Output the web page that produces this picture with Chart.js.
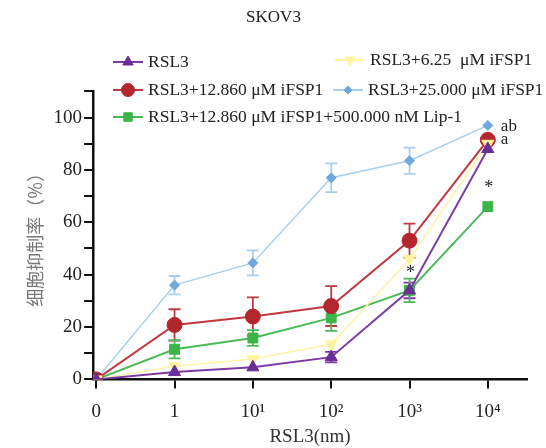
<!DOCTYPE html>
<html>
<head>
<meta charset="utf-8">
<script src="https://cdn.jsdelivr.net/npm/chart.js@4.4.1/dist/chart.umd.min.js"></script>
<style>
  html, body { margin: 0; padding: 0; background: #fff; }
  #wrap { width: 546px; height: 448px; }
</style>
</head>
<body>
<div id="wrap"><canvas id="c" width="546" height="448"></canvas></div>
<script>
// ── Data ──────────────────────────────────────────────────────────────────────
const xLabels = ['0', '1', '10¹', '10²', '10³', '10⁴'];

const rsl3       = [0, 2.8, 4.6, 8.5, 34, 88];
const rsl3Err    = [0, 0, 0, 2, 3, 0];
const ifsp625    = [0, 5, 7.8, 13.4, 46, 90];
const ifsp625Err = [0, 0, 0, 0, 0, 0];
const ifsp12     = [0, 20.8, 24, 28, 53, 91.5];
const ifsp12Err  = [0, 6, 7.3, 7.6, 6.5, 0];
const ifsp25     = [0, 36, 44.5, 77, 83.5, 97];
const ifsp25Err  = [0, 3.5, 4.8, 5.5, 5, 0];
const lip1       = [0, 11.5, 15.8, 23.5, 34, 66];
const lip1Err    = [0, 3.5, 3, 5, 4.5, 0];

const seriesNames = [
  'RSL3',
  'RSL3+6.25  μM iFSP1',
  'RSL3+12.860 μM iFSP1',
  'RSL3+25.000 μM iFSP1',
  'RSL3+12.860 μM iFSP1+500.000 nM Lip-1',
];

// significance marks: [dataset index, point index, text]
const marks = [
  [3, 5, 'ab'],
  [2, 5, 'a'],
  [4, 5, '*'],
  [1, 4, '*'],
];

const SERIF = '"Liberation Serif", "DejaVu Serif", serif';

const toPts = arr => arr.map((v, i) => ({ x: i, y: v }));

function ds(label, values, errs, color, lineColor, style, radius, rotation, width) {
  return {
    label,
    data: toPts(values),
    errs,
    borderColor: lineColor,
    backgroundColor: color,
    pointBackgroundColor: color,
    pointBorderColor: color,
    pointStyle: style,
    pointRadius: radius,
    pointRotation: rotation,
    pointBorderWidth: 1,
    borderWidth: width,
    tension: 0,
  };
}

const datasets = [
  ds(seriesNames[0], rsl3,    rsl3Err,    '#6b2d96', '#7d3aa6', 'triangle', 7, 0, 2),
  ds(seriesNames[1], ifsp625, ifsp625Err, '#fff3a0', '#fff3a8', 'triangle', 7, 180, 1.5),
  ds(seriesNames[2], ifsp12,  ifsp12Err,  '#b3262d', '#c0393e', 'circle', 7.5, 0, 2),
  ds(seriesNames[3], ifsp25,  ifsp25Err,  '#6fa8df', '#a9cff0', 'rectRot', 5, 0, 1.5),
  ds(seriesNames[4], lip1,    lip1Err,    '#3bb54a', '#4cb957', 'rect', 7, 0, 2),
];

// ── Plugins ───────────────────────────────────────────────────────────────────
const errorBars = {
  id: 'errorBars',
  beforeDatasetsDraw(chart) {
    const { ctx, scales: { x, y } } = chart;
    ctx.save();
    chart.data.datasets.forEach(d => {
      ctx.strokeStyle = d.borderColor;
      ctx.lineWidth = 1.8;
      d.data.forEach((p, i) => {
        const e = d.errs[i];
        if (!e) return;
        const px = x.getPixelForValue(p.x);
        const top = y.getPixelForValue(p.y + e);
        const bot = y.getPixelForValue(p.y - e);
        ctx.beginPath();
        ctx.moveTo(px, top); ctx.lineTo(px, bot);
        ctx.moveTo(px - 6, top); ctx.lineTo(px + 6, top);
        ctx.moveTo(px - 6, bot); ctx.lineTo(px + 6, bot);
        ctx.stroke();
      });
    });
    ctx.restore();
  }
};

const extras = {
  id: 'extras',
  afterDraw(chart) {
    const { ctx, scales: { x, y } } = chart;
    ctx.save();

    // significance letters
    ctx.fillStyle = '#222';
    ctx.textBaseline = 'middle';
    marks.forEach(([di, pi, txt]) => {
      const p = chart.data.datasets[di].data[pi];
      const px = x.getPixelForValue(p.x);
      const py = y.getPixelForValue(p.y);
      if (txt === '*') {
        ctx.textAlign = 'center';
        ctx.font = '18px ' + SERIF;
        ctx.fillText('*', px + 1, py + (di === 4 ? -18 : 14));
      } else {
        ctx.textAlign = 'left';
        ctx.font = '17px ' + SERIF;
        ctx.fillText(txt, px + 13, py + (txt === 'a' ? 0 : 1));
      }
    });

    // legend (two columns, drawn over the plot like the source figure)
    const slots = [[113, 62], [335, 60], [113, 90], [333, 90], [113, 117]];
    ctx.font = '17.5px ' + SERIF;
    ctx.textAlign = 'left';
    chart.data.datasets.forEach((d, i) => {
      const [lx, ly] = slots[i];
      ctx.strokeStyle = d.borderColor;
      ctx.lineWidth = 2;
      ctx.beginPath();
      ctx.moveTo(lx, ly); ctx.lineTo(lx + 30, ly);
      ctx.stroke();
      ctx.fillStyle = d.pointBackgroundColor;
      ctx.strokeStyle = d.pointBorderColor;
      ctx.lineWidth = 1;
      Chart.helpers.drawPoint(ctx, {
        pointStyle: d.pointStyle, radius: d.pointRadius - 1, rotation: d.pointRotation, borderWidth: 1
      }, lx + 15, ly);
      ctx.fillStyle = '#222';
      ctx.fillText(d.label, lx + 35, ly);
    });
    ctx.restore();
  }
};

// ── Chart ─────────────────────────────────────────────────────────────────────
new Chart(document.getElementById('c'), {
  type: 'line',
  data: { datasets },
  plugins: [errorBars, extras],
  options: {
    responsive: false,
    animation: false,
    layout: { padding: { top: 0, right: 19, left: 20, bottom: 0 } },
    plugins: {
      legend: { display: false },
      tooltip: { enabled: false },
      title: {
        display: true, text: 'SKOV3', color: '#222',
        font: { family: SERIF, size: 17, weight: 'normal' },
        padding: { top: 7, bottom: 64 },
      },
    },
    scales: {
      x: {
        type: 'linear', min: -0.04, max: 5.5,
        afterBuildTicks: axis => { axis.ticks = xLabels.map((_, i) => ({ value: i })); },
        ticks: {
          callback: v => xLabels[v] ?? '', color: '#222', padding: 12,
          font: { family: SERIF, size: 19 }, maxRotation: 0,
        },
        grid: { drawOnChartArea: false, drawTicks: true, tickLength: 9, color: '#111', lineWidth: 2 },
        border: { color: '#111', width: 2.5 },
        title: { display: true, text: 'RSL3(nm)', color: '#333', font: { family: SERIF, size: 19 }, padding: { top: -10, bottom: 0 } },
      },
      y: {
        min: 0, max: 110,
        ticks: {
          stepSize: 10, color: '#222', padding: 2,
          callback: v => (v % 20 === 0 && v <= 100 ? String(v) : ''),
          font: { family: SERIF, size: 19 },
        },
        grid: { drawOnChartArea: false, drawTicks: true, tickLength: 9, color: '#111', lineWidth: 2 },
        border: { color: '#111', width: 2.5 },
        title: {
          display: true, text: '细胞抑制率（%）', color: '#777',
          font: { family: '"Noto Sans CJK SC", sans-serif', size: 18 }, padding: { bottom: 6 },
        },
      },
    },
  },
});
</script>
</body>
</html>
